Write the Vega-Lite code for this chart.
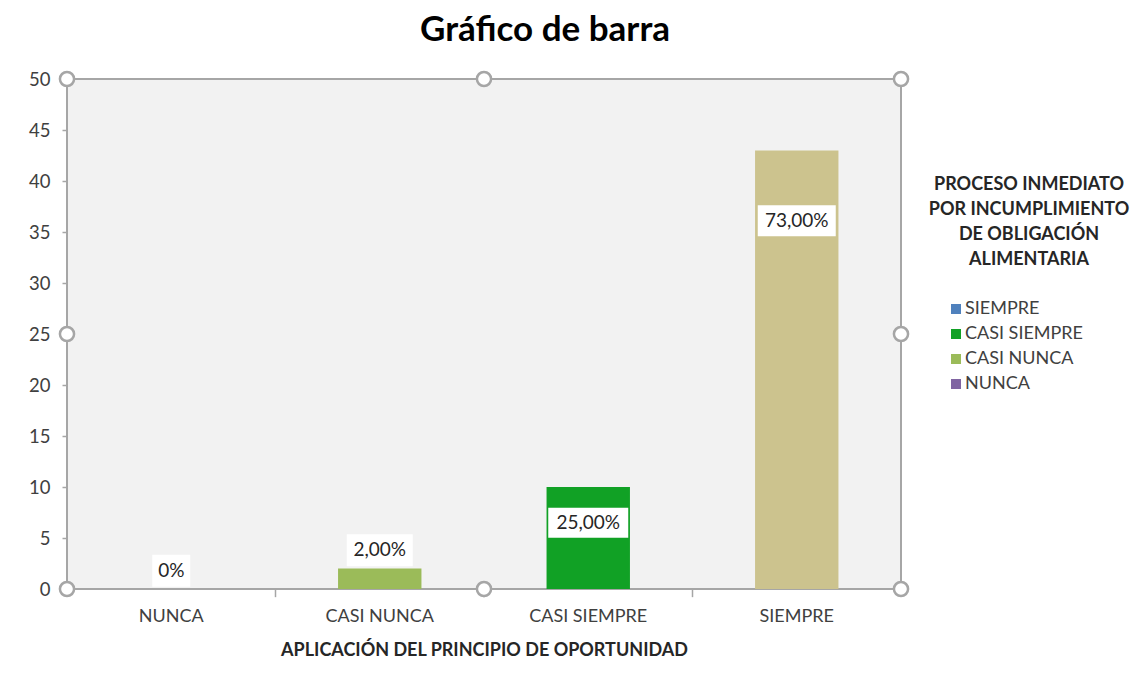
{
  "$schema": "https://vega.github.io/schema/vega-lite/v6.json",
  "width": 834,
  "height": 510,
  "autosize": {"type": "none"},
  "padding": {"left": 67, "top": 79, "right": 231, "bottom": 85},
  "background": "white",
  "config": {
    "font": "Lato",
    "view": {"fill": "#F2F2F2", "stroke": "#A6A6A6", "strokeWidth": 2}
  },
  "title": {"text": "Gráfico de barra", "fontSize": 35, "fontWeight": "bold", "color": "#000000", "anchor": "middle", "dx": 61, "offset": 19},
  "datasets": {
    "respuestas": [
      {"cat": "NUNCA", "valor": 0, "etiqueta": "0%"},
      {"cat": "CASI NUNCA", "valor": 2, "etiqueta": "2,00%"},
      {"cat": "CASI SIEMPRE", "valor": 10, "etiqueta": "25,00%"},
      {"cat": "SIEMPRE", "valor": 43, "etiqueta": "73,00%"}
    ],
    "asas_izq": [
      {"cat": "NUNCA", "v": 0}, {"cat": "NUNCA", "v": 25}, {"cat": "NUNCA", "v": 50},
      {"cat": "CASI SIEMPRE", "v": 0}, {"cat": "CASI SIEMPRE", "v": 50}
    ],
    "asas_der": [
      {"cat": "SIEMPRE", "v": 0}, {"cat": "SIEMPRE", "v": 25}, {"cat": "SIEMPRE", "v": 50}
    ],
    "marcas": [
      {"cat": "CASI NUNCA", "a": 0, "b": -0.8}, {"cat": "CASI SIEMPRE", "a": 0, "b": -0.8}, {"cat": "SIEMPRE", "a": 0, "b": -0.8}
    ]
  },
  "layer": [
    {
      "data": {"name": "respuestas"},
      "mark": {"type": "bar"},
      "encoding": {
        "x": {"field": "cat", "type": "nominal", "sort": null,
          "scale": {"domain": ["NUNCA", "CASI NUNCA", "CASI SIEMPRE", "SIEMPRE"], "paddingInner": 0.6, "paddingOuter": 0.3},
          "axis": {"title": "APLICACIÓN DEL PRINCIPIO DE OPORTUNIDAD", "titleFontSize": 18, "titleFontWeight": "bold", "titleColor": "#262626", "titlePadding": 16,
                   "labelFontSize": 18, "labelColor": "#404040", "labelPadding": 18, "labelAngle": 0, "ticks": false, "domain": false}},
        "y": {"field": "valor", "type": "quantitative",
          "scale": {"domain": [0, 50], "nice": false},
          "axis": {"title": null, "values": [0, 5, 10, 15, 20, 25, 30, 35, 40, 45, 50], "grid": false, "domain": false,
                   "tickColor": "#A6A6A6", "tickSize": 5, "tickWidth": 1.5, "labelFontSize": 18.5, "labelColor": "#404040", "labelPadding": 12}},
        "fill": {"field": "cat", "type": "nominal", "legend": null,
          "scale": {"domain": ["NUNCA", "CASI NUNCA", "CASI SIEMPRE", "SIEMPRE"], "range": ["#8064A2", "#9BBB59", "#11A125", "#CCC38E"]}}
      }
    },
    {
      "data": {"name": "respuestas"},
      "mark": {"type": "point", "filled": true, "opacity": 0},
      "encoding": {
        "x": {"field": "cat", "type": "nominal", "scale": {"domain": ["NUNCA", "CASI NUNCA", "CASI SIEMPRE", "SIEMPRE"]}},
        "y": {"field": "valor", "type": "quantitative"},
        "color": {"field": "cat", "type": "nominal",
          "scale": {"domain": ["SIEMPRE", "CASI SIEMPRE", "CASI NUNCA", "NUNCA"], "range": ["#4F81BD", "#11A125", "#9BBB59", "#8064A2"]},
          "legend": {"orient": "none", "legendX": 862, "legendY": 97,
            "title": ["PROCESO INMEDIATO", "POR INCUMPLIMIENTO", "DE OBLIGACIÓN", "ALIMENTARIA"],
            "titleFontSize": 18, "titleFontWeight": "bold", "titleColor": "#262626", "titleAlign": "center", "titleAnchor": "middle", "titleLineHeight": 25, "titlePadding": 31, "titleLimit": 400,
            "labelFontSize": 18, "labelColor": "#404040", "labelLimit": 300, "symbolType": "square", "symbolSize": 100, "symbolOpacity": 1, "symbolStrokeWidth": 0,
            "rowPadding": 7, "symbolOffset": -28, "labelOffset": 0}}
      }
    },
    {
      "data": {"name": "respuestas"},
      "transform": [{"calculate": "datum.valor >= 40 ? datum.valor - 6.9 : datum.valor >= 10 ? datum.valor - 3.5 : datum.valor + 1.8", "as": "pos"}],
      "mark": {"type": "point", "filled": true, "fill": "white", "opacity": 1, "strokeWidth": 0},
      "encoding": {
        "x": {"field": "cat", "type": "nominal", "scale": {"domain": ["NUNCA", "CASI NUNCA", "CASI SIEMPRE", "SIEMPRE"]}},
        "y": {"field": "pos", "type": "quantitative"},
        "shape": {"field": "cat", "type": "nominal", "legend": null,
          "scale": {"domain": ["NUNCA", "CASI NUNCA", "CASI SIEMPRE", "SIEMPRE"],
                    "range": ["M-1,-0.842H1V0.842H-1Z", "M-1,-0.485H1V0.485H-1Z", "M-1,-0.375H1V0.375H-1Z", "M-1,-0.397H1V0.397H-1Z"]}},
        "size": {"field": "cat", "type": "nominal", "legend": null,
          "scale": {"type": "ordinal", "domain": ["NUNCA", "CASI NUNCA", "CASI SIEMPRE", "SIEMPRE"], "range": [1444, 4356, 6400, 6084]}}
      }
    },
    {
      "data": {"name": "respuestas"},
      "transform": [{"calculate": "datum.valor >= 40 ? datum.valor - 6.9 : datum.valor >= 10 ? datum.valor - 3.5 : datum.valor + 1.8", "as": "pos"}],
      "mark": {"type": "text", "fontSize": 19, "color": "#262626", "baseline": "middle", "align": "center"},
      "encoding": {
        "x": {"field": "cat", "type": "nominal", "scale": {"domain": ["NUNCA", "CASI NUNCA", "CASI SIEMPRE", "SIEMPRE"]}},
        "y": {"field": "pos", "type": "quantitative"},
        "text": {"field": "etiqueta"}
      }
    },
    {
      "data": {"name": "marcas"},
      "mark": {"type": "rule", "color": "#A6A6A6", "strokeWidth": 1.5},
      "encoding": {
        "x": {"field": "cat", "type": "nominal", "bandPosition": -0.75, "scale": {"domain": ["NUNCA", "CASI NUNCA", "CASI SIEMPRE", "SIEMPRE"]}},
        "y": {"field": "a", "type": "quantitative"},
        "y2": {"field": "b"}
      }
    },
    {
      "data": {"name": "asas_izq"},
      "mark": {"type": "point", "shape": "circle", "filled": true, "fill": "white", "stroke": "#A6A6A6", "strokeWidth": 2.5, "size": 200, "opacity": 1},
      "encoding": {
        "x": {"field": "cat", "type": "nominal", "bandPosition": -0.75, "scale": {"domain": ["NUNCA", "CASI NUNCA", "CASI SIEMPRE", "SIEMPRE"]}},
        "y": {"field": "v", "type": "quantitative"}
      }
    },
    {
      "data": {"name": "asas_der"},
      "mark": {"type": "point", "shape": "circle", "filled": true, "fill": "white", "stroke": "#A6A6A6", "strokeWidth": 2.5, "size": 200, "opacity": 1},
      "encoding": {
        "x": {"field": "cat", "type": "nominal", "bandPosition": 1.75, "scale": {"domain": ["NUNCA", "CASI NUNCA", "CASI SIEMPRE", "SIEMPRE"]}},
        "y": {"field": "v", "type": "quantitative"}
      }
    }
  ]
}
